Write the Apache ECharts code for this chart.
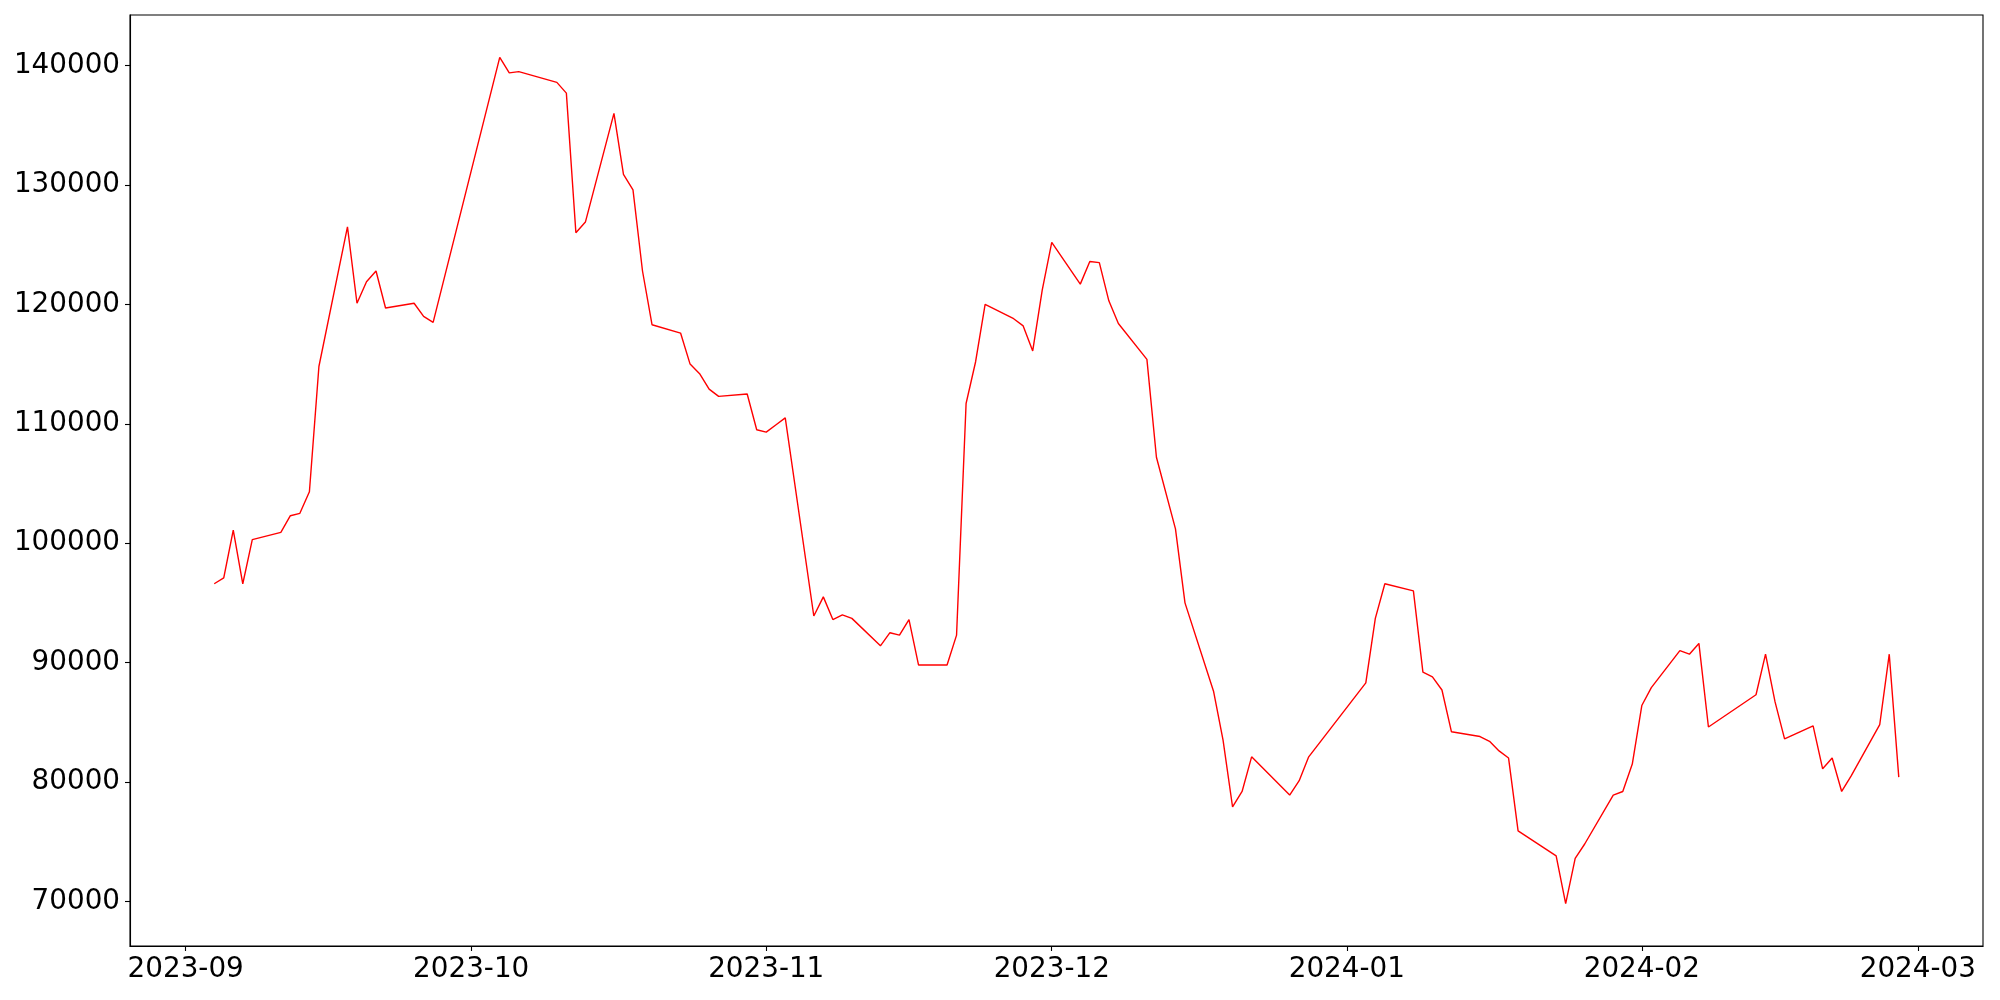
<!DOCTYPE html>
<html>
<head>
<meta charset="utf-8">
<script src="https://cdn.jsdelivr.net/npm/echarts@6/dist/echarts.min.js"></script>
<style>
html,body{margin:0;padding:0;background:#fff;}
#chart{width:2000px;height:1000px;}
</style>
</head>
<body>
<div id="chart"></div>
<script>
const dates = ['2023-09-04','2023-09-05','2023-09-06','2023-09-07','2023-09-08','2023-09-11','2023-09-12','2023-09-13','2023-09-14','2023-09-15',
'2023-09-18','2023-09-19','2023-09-20','2023-09-21','2023-09-22','2023-09-25','2023-09-26','2023-09-27','2023-10-04','2023-10-05',
'2023-10-06','2023-10-10','2023-10-11','2023-10-12','2023-10-13','2023-10-16','2023-10-17','2023-10-18','2023-10-19','2023-10-20',
'2023-10-23','2023-10-24','2023-10-25','2023-10-26','2023-10-27','2023-10-30','2023-10-31','2023-11-01','2023-11-02','2023-11-03',
'2023-11-06','2023-11-07','2023-11-08','2023-11-09','2023-11-10','2023-11-13','2023-11-14','2023-11-15','2023-11-16','2023-11-17',
'2023-11-20','2023-11-21','2023-11-22','2023-11-23','2023-11-24','2023-11-27','2023-11-28','2023-11-29','2023-11-30','2023-12-01',
'2023-12-04','2023-12-05','2023-12-06','2023-12-07','2023-12-08','2023-12-11','2023-12-12','2023-12-14','2023-12-15','2023-12-18',
'2023-12-19','2023-12-20','2023-12-21','2023-12-22','2023-12-26','2023-12-27','2023-12-28','2024-01-03','2024-01-04','2024-01-05',
'2024-01-08','2024-01-09','2024-01-10','2024-01-11','2024-01-12','2024-01-15','2024-01-16','2024-01-17','2024-01-18','2024-01-19',
'2024-01-23','2024-01-24','2024-01-25','2024-01-26','2024-01-29','2024-01-30','2024-01-31','2024-02-01','2024-02-02','2024-02-05',
'2024-02-06','2024-02-07','2024-02-08','2024-02-13','2024-02-14','2024-02-15','2024-02-16','2024-02-19','2024-02-20','2024-02-21',
'2024-02-22','2024-02-23','2024-02-26','2024-02-27','2024-02-28'];

const values = [96600,97100,101100,96600,100300,100900,102300,102500,104300,114800,
126500,120100,121900,122800,119700,120100,119000,118500,140700,139400,
139500,138600,137700,126000,126900,136000,130900,129600,122800,118300,
117600,115000,114200,112900,112300,112500,109500,109300,109900,110500,
93900,95500,93600,94000,93700,91400,92500,92300,93600,89800,
89800,92300,111700,115200,120000,118800,118200,116100,121200,125200,
121700,123600,123500,120300,118400,115400,107200,101200,95000,87600,
83500,77900,79200,82100,78900,80100,82100,88300,93700,96600,
96000,89200,88800,87700,84200,83800,83400,82600,82000,75900,
73800,69800,73600,74800,78900,79200,81500,86400,87900,91000,
90700,91600,84600,87300,90700,86700,83600,84700,81100,82000,
79200,80500,84800,90700,80400];

const xTickLabels = ['2023-09','2023-10','2023-11','2023-12','2024-01','2024-02','2024-03'];
const yTicks = [70000,80000,90000,100000,110000,120000,130000,140000];

function toTs(s){ const p = s.split('-').map(Number); return Date.UTC(p[0], p[1]-1, p[2] || 1); }

const ts = dates.map(toTs);
const seriesData = ts.map((t,i)=>[t, values[i]]);
const xSpan = ts[ts.length-1] - ts[0];
const xMin = ts[0] - 0.05*xSpan, xMax = ts[ts.length-1] + 0.05*xSpan;
const vMin = Math.min(...values), vMax = Math.max(...values);
const ySpan = vMax - vMin;
const yMin = vMin - 0.05*ySpan, yMax = vMax + 0.05*ySpan;
const xTickVals = xTickLabels.map(toTs);
const xLabelMap = {};
xTickVals.forEach((v,i)=>{ xLabelMap[v] = xTickLabels[i]; });

const FONT = 'DejaVu Sans';
const chart = echarts.init(document.getElementById('chart'), null, {renderer:'canvas'});
chart.setOption({
  animation: false,
  backgroundColor: '#fff',
  grid: {left:130, right:17, top:15, bottom:54, show:true, borderColor:'#000', borderWidth:1.1, backgroundColor:'transparent'},
  xAxis: {
    type:'value', min:xMin, max:xMax, scale:true,
    axisLine:{show:true, onZero:false, lineStyle:{color:'#000', width:1.1}},
    axisTick:{show:true, length:5, lineStyle:{color:'#000', width:1.1}, customValues: xTickVals},
    axisLabel:{color:'#000', fontFamily:FONT, fontSize:27.8, margin:10, customValues: xTickVals,
      formatter:function(v){ return xLabelMap[v] !== undefined ? xLabelMap[v] : ''; }},
    splitLine:{show:false}
  },
  yAxis: {
    type:'value', min:yMin, max:yMax, scale:true,
    axisLine:{show:true, onZero:false, lineStyle:{color:'#000', width:1.1}},
    axisTick:{show:true, length:5, lineStyle:{color:'#000', width:1.1}, customValues: yTicks},
    axisLabel:{color:'#000', fontFamily:FONT, fontSize:27.8, margin:10, customValues: yTicks,
      formatter:function(v){ return String(Math.round(v)); }},
    splitLine:{show:false}
  },
  series: [{
    type:'line', data: seriesData, showSymbol:false, symbol:'none',
    lineStyle:{color:'#ff0000', width:1.4}, itemStyle:{color:'#ff0000'}
  }]
});
</script>
</body>
</html>
